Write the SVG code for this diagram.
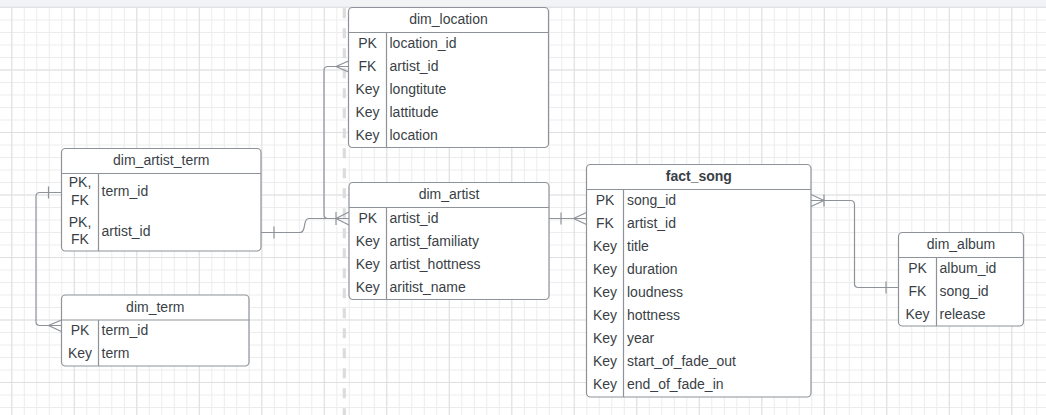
<svg xmlns="http://www.w3.org/2000/svg" width="1046" height="415" viewBox="0 0 1046 415">
<style>
.tbl{fill:#ffffff;stroke:#8e939a;stroke-width:1.2}
.sep{stroke:#8e939a;stroke-width:1.2;fill:none}
.t{font-family:"Liberation Sans",Arial,sans-serif;font-size:14px;fill:#3a3f47}
.c{text-anchor:middle}
.b{font-weight:bold}
.cn{fill:none;stroke:#8e939a;stroke-width:1.2}
</style>
<defs>
<pattern id="minor" width="12.5" height="12.5" patternUnits="userSpaceOnUse" x="11.3" y="7">
<path d="M0.5 0 V12.5 M0 0.5 H12.5" stroke="#ececec" stroke-width="1" fill="none"/>
</pattern>
<pattern id="major" width="62.5" height="62.5" patternUnits="userSpaceOnUse" x="11.3" y="7">
<path d="M0.5 0 V62.5 M0 0.5 H62.5" stroke="#dfdfdf" stroke-width="1" fill="none"/>
</pattern>
</defs>
<rect x="0" y="0" width="1046" height="415" fill="#ffffff"/>
<rect x="0" y="7" width="1046" height="408" fill="url(#minor)"/>
<rect x="0" y="7" width="1046" height="408" fill="url(#major)"/>
<rect x="0" y="0" width="1046" height="7" fill="#f2f3f5"/>
<line x1="0" y1="7" x2="1046" y2="7" stroke="#e4e5e8" stroke-width="1"/>
<line x1="344.3" y1="8.3" x2="344.3" y2="415" stroke="#dcdcdc" stroke-width="3.2" stroke-dasharray="10 10"/>

<g id="connectors">
<!-- dim_location FK -> dim_artist -->
<path class="cn" d="M348.5,66.5 H328 Q324,66.5 324,70.5 V214.5 Q324,218.5 328,218.5 H349"/>
<path class="cn" d="M348.5,61 L336,66.5 L348.5,72"/>
<!-- dim_artist_term artist_id -> dim_artist -->
<path class="cn" d="M261,232.5 H300 Q303,232.5 304,228 L305,223 Q306,218.5 309,218.5 H336"/>
<path class="cn" d="M274,226.5 V238.5"/>
<path class="cn" d="M349,212 L336,218.5 L349,225 M336,212 V225"/>
<!-- dim_artist -> fact_song -->
<path class="cn" d="M549,218.5 H586.5"/>
<path class="cn" d="M561,212.5 V224.5"/>
<path class="cn" d="M586.5,212.5 L573.5,218.5 L586.5,224.5"/>
<!-- fact_song -> dim_album -->
<path class="cn" d="M811,200.5 H850.5 Q854.5,200.5 854.5,204.5 V283.5 Q854.5,287.5 858.5,287.5 H898.5"/>
<path class="cn" d="M811,194.5 L824,200.5 L811,206.5 M824,194.5 V206.5"/>
<path class="cn" d="M886,281.5 V293.5"/>
<!-- dim_artist_term term_id -> dim_term -->
<path class="cn" d="M61.5,192.5 H40 Q36,192.5 36,196.5 V321.5 Q36,325.5 40,325.5 H61.5"/>
<path class="cn" d="M48.5,186.5 V198.5"/>
<path class="cn" d="M61.5,320 L48.5,325.5 L61.5,331.5"/>
</g>

<g id="dim_location">
<rect class="tbl" x="348.5" y="7.5" width="200" height="140" rx="4"/>
<path class="sep" d="M348.5,32.5 H548.5 M386.5,32.5 V147.5"/>
<text class="t c" x="448.5" y="24">dim_location</text>
<text class="t c" x="367.5" y="48">PK</text><text class="t" x="389.5" y="48">location_id</text>
<text class="t c" x="367.5" y="71">FK</text><text class="t" x="389.5" y="71">artist_id</text>
<text class="t c" x="367.5" y="94">Key</text><text class="t" x="389.5" y="94">longtitute</text>
<text class="t c" x="367.5" y="117">Key</text><text class="t" x="389.5" y="117">lattitude</text>
<text class="t c" x="367.5" y="140">Key</text><text class="t" x="389.5" y="140">location</text>
</g>

<g id="dim_artist">
<rect class="tbl" x="349" y="182.5" width="200" height="117" rx="4"/>
<path class="sep" d="M349,207.5 H549 M386.5,207.5 V299.5"/>
<text class="t c" x="449" y="199">dim_artist</text>
<text class="t c" x="367.8" y="223">PK</text><text class="t" x="389.5" y="223">artist_id</text>
<text class="t c" x="367.8" y="246">Key</text><text class="t" x="389.5" y="246">artist_familiaty</text>
<text class="t c" x="367.8" y="269">Key</text><text class="t" x="389.5" y="269">artist_hottness</text>
<text class="t c" x="367.8" y="292">Key</text><text class="t" x="389.5" y="292">aritist_name</text>
</g>

<g id="dim_artist_term">
<rect class="tbl" x="61.5" y="148.5" width="199.5" height="102.5" rx="4"/>
<path class="sep" d="M61.5,173.5 H261 M98.5,173.5 V251"/>
<text class="t c" x="161.3" y="165">dim_artist_term</text>
<text class="t c" x="80" y="187">PK,</text><text class="t c" x="80" y="204.5">FK</text>
<text class="t" x="101.5" y="195.5">term_id</text>
<text class="t c" x="80" y="227">PK,</text><text class="t c" x="80" y="243.5">FK</text>
<text class="t" x="101.5" y="235.5">artist_id</text>
</g>

<g id="dim_term">
<rect class="tbl" x="61.5" y="295" width="187.5" height="71" rx="4"/>
<path class="sep" d="M61.5,320 H249 M98.5,320 V366"/>
<text class="t c" x="155.3" y="312">dim_term</text>
<text class="t c" x="80" y="334.5">PK</text><text class="t" x="101.5" y="334.5">term_id</text>
<text class="t c" x="80" y="357.5">Key</text><text class="t" x="101.5" y="357.5">term</text>
</g>

<g id="fact_song">
<rect class="tbl" x="586.5" y="164.5" width="224.5" height="232.5" rx="4"/>
<path class="sep" d="M586.5,189.5 H811 M623.5,189.5 V397"/>
<text class="t c b" x="698.8" y="181">fact_song</text>
<text class="t c" x="605" y="205">PK</text><text class="t" x="627" y="205">song_id</text>
<text class="t c" x="605" y="228">FK</text><text class="t" x="627" y="228">artist_id</text>
<text class="t c" x="605" y="251">Key</text><text class="t" x="627" y="251">title</text>
<text class="t c" x="605" y="274">Key</text><text class="t" x="627" y="274">duration</text>
<text class="t c" x="605" y="297">Key</text><text class="t" x="627" y="297">loudness</text>
<text class="t c" x="605" y="320">Key</text><text class="t" x="627" y="320">hottness</text>
<text class="t c" x="605" y="343">Key</text><text class="t" x="627" y="343">year</text>
<text class="t c" x="605" y="366">Key</text><text class="t" x="627" y="366">start_of_fade_out</text>
<text class="t c" x="605" y="389">Key</text><text class="t" x="627" y="389">end_of_fade_in</text>
</g>

<g id="dim_album">
<rect class="tbl" x="898.5" y="232.5" width="125" height="93.5" rx="4"/>
<path class="sep" d="M898.5,257.5 H1023.5 M936.5,257.5 V326"/>
<text class="t c" x="961" y="249">dim_album</text>
<text class="t c" x="917.5" y="273">PK</text><text class="t" x="939.5" y="273">album_id</text>
<text class="t c" x="917.5" y="296">FK</text><text class="t" x="939.5" y="296">song_id</text>
<text class="t c" x="917.5" y="319">Key</text><text class="t" x="939.5" y="319">release</text>
</g>
</svg>
